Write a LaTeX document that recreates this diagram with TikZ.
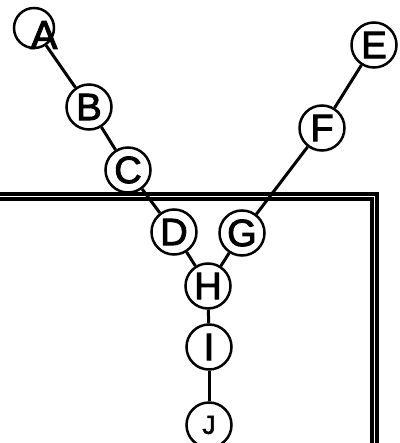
\documentclass[tikz,border=0pt]{standalone}
\usepackage{fontspec}
\setmainfont{Liberation Sans}
\newfontfamily\heavysans{Liberation Sans}[FakeBold=2.5]
\begin{document}
\begin{tikzpicture}[x=1pt,y=-1pt,
  vtx/.style={draw, circle, line width=2.5pt, minimum size=45pt, inner sep=0pt, font=\heavysans\fontsize{38}{38}\selectfont},
  lettr/.style={font=\heavysans\fontsize{40}{40}\selectfont, inner sep=0pt},
  edge/.style={line width=3pt},
  frameline/.style={line width=3.8pt, double, double distance=1.8pt}]
\useasboundingbox (0,0) rectangle (399,443);
\clip (0,0) rectangle (399,443);
\draw[frameline] (-20,480) -- (-20,196.5) -- (374.5,196.5) -- (374.5,480);
\node[vtx, minimum size=40pt, label={[lettr, xshift=10pt, yshift=-7pt]center:A}] (A) at (34,28) {};
\node[vtx] (B) at (89,107) {B};
\node[vtx] (C) at (128,170) {C};
\node[vtx] (D) at (174,232) {D};
\node[vtx] (E) at (374,45) {E};
\node[vtx] (F) at (322,128) {F};
\node[vtx] (G) at (242,233) {G};
\node[vtx] (H) at (208,286) {H};
\node[vtx] (I) at (209,347) {I};
\node[vtx, font=\heavysans\fontsize{26}{26}\selectfont] (J) at (209,425) {J};
\draw[edge] (A) -- (B);
\draw[edge] (B) -- (C);
\draw[edge] (C) -- (D);
\draw[edge] (D) -- (H);
\draw[edge] (E) -- (F);
\draw[edge] (F) -- (G);
\draw[edge] (G) -- (H);
\draw[edge] (H) -- (I);
\draw[edge] (I) -- (J);
\end{tikzpicture}
\end{document}
